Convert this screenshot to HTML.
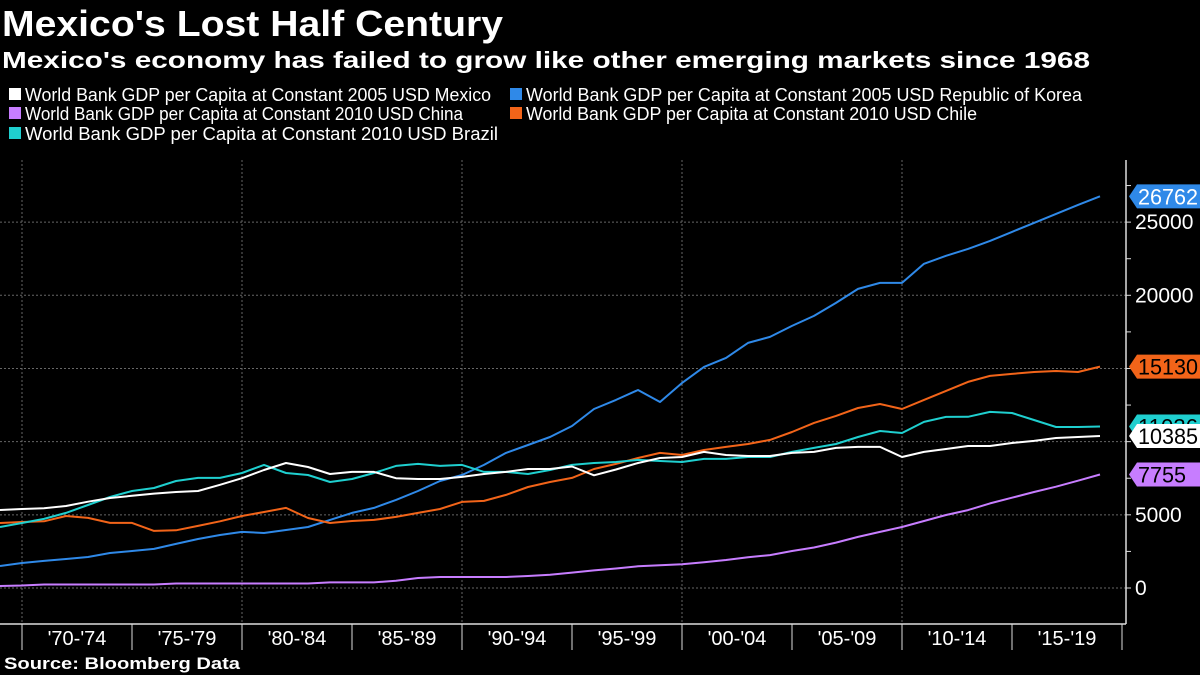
<!DOCTYPE html>
<html><head><meta charset="utf-8">
<style>
html,body{margin:0;padding:0;background:#000;}
svg{display:block;}
text{font-family:"Liberation Sans",sans-serif;}
</style></head>
<body>
<svg id="chart" width="1200" height="675" viewBox="0 0 1200 675" xmlns="http://www.w3.org/2000/svg">
<rect width="1200" height="675" fill="#000"/>
<text x="2" y="36" font-size="36" font-weight="bold" fill="#fff" textLength="501" lengthAdjust="spacingAndGlyphs">Mexico's Lost Half Century</text>
<text x="2" y="68" font-size="23" font-weight="bold" fill="#fff" textLength="1088" lengthAdjust="spacingAndGlyphs">Mexico's economy has failed to grow like other emerging markets since 1968</text>
<g id="legend"></g>
<g id="grid"></g>
<g id="axes"></g>
<g id="series"></g>
<g id="labels"></g>
<text x="4" y="669" font-size="17" font-weight="bold" fill="#fff" textLength="236" lengthAdjust="spacingAndGlyphs">Source: Bloomberg Data</text>
</svg>
<script>
const years = [];
for (let y = 1969; y <= 2019; y++) years.push(y);
const mexico = [5330,5400,5450,5600,5900,6150,6300,6450,6560,6630,7050,7500,8060,8540,8270,7790,7930,7930,7500,7450,7450,7590,7790,7930,8130,8130,8300,7700,8100,8540,8880,8950,9300,9090,9020,9020,9230,9300,9570,9640,9640,8950,9300,9500,9700,9700,9910,10050,10250,10320,10385];
const brazil = [4170,4440,4720,5130,5670,6220,6630,6830,7310,7520,7520,7860,8410,7860,7720,7240,7450,7860,8340,8480,8340,8410,7930,7930,7790,8060,8410,8540,8610,8750,8680,8610,8820,8820,8950,8950,9300,9570,9840,10320,10730,10590,11350,11690,11700,12030,11960,11480,11000,11000,11036];
const chile = [4440,4510,4560,4920,4790,4450,4450,3900,3940,4240,4560,4920,5190,5470,4780,4440,4580,4650,4860,5130,5400,5880,5950,6360,6900,7240,7520,8130,8480,8880,9230,9090,9430,9640,9840,10120,10660,11280,11760,12300,12570,12230,12850,13470,14080,14490,14630,14760,14830,14760,15130];
const korea = [1500,1710,1850,1980,2120,2390,2530,2670,3010,3350,3620,3830,3760,3960,4170,4650,5130,5470,6020,6630,7310,7720,8410,9230,9770,10320,11070,12230,12850,13530,12710,14010,15110,15720,16750,17160,17910,18590,19480,20440,20850,20850,22150,22700,23170,23720,24330,24950,25560,26180,26762];
const china = [140,170,240,240,240,240,240,240,310,310,310,310,310,310,310,380,380,380,500,680,750,750,750,750,820,900,1050,1200,1330,1480,1560,1620,1760,1910,2100,2250,2530,2770,3100,3490,3830,4170,4580,4990,5320,5780,6170,6560,6920,7330,7755];
const yTicks = [0,5000,10000,15000,20000,25000];
const yTickLabels = ["0","5000","","","20000","25000"];
const periodLabels = ["'70-'74","'75-'79","'80-'84","'85-'89","'90-'94","'95-'99","'00-'04","'05-'09","'10-'14","'15-'19"];
const periodStarts = [1970,1975,1980,1985,1990,1995,2000,2005,2010,2015];
const legendNames = ["World Bank GDP per Capita at Constant 2005 USD Mexico","World Bank GDP per Capita at Constant 2005 USD Republic of Korea","World Bank GDP per Capita at Constant 2010 USD China","World Bank GDP per Capita at Constant 2010 USD Chile","World Bank GDP per Capita at Constant 2010 USD Brazil"];

const NS = "http://www.w3.org/2000/svg";
function el(tag, attrs, parent){const e=document.createElementNS(NS,tag);for(const k in attrs)e.setAttribute(k,attrs[k]);parent.appendChild(e);return e;}
const xS = yr => 22 + (yr - 1970) * 22;
const yS = v => 588 - v * 0.014635;
const AX = 1126;

const leg = document.getElementById('legend');
const legCols = ["#ffffff","#2f89e8","#c77dff","#f26419","#1fcfcf"];
const legPos = [[9,101,466],[510,101,556],[9,120,438],[510,120,451],[9,140,473]];
legendNames.forEach((n,i)=>{
  const r = el('rect',{x:legPos[i][0],y:legPos[i][1]-13,width:12,height:12,fill:legCols[i]},leg);
  
  
  const t = el('text',{x:legPos[i][0]+16,y:legPos[i][1],'font-size':18,fill:'#fff',textLength:legPos[i][2],lengthAdjust:'spacingAndGlyphs'},leg);
  t.textContent = n;
  
  
});

const grid = document.getElementById('grid');
yTicks.forEach(v=>{
  const l = el('line',{x1:0,x2:AX,y1:yS(v),y2:yS(v),stroke:'#666','stroke-width':1,'stroke-dasharray':'2,2'},grid);
  
  
});
[1970,1980,1990,2000,2010].forEach(yr=>{
  const l = el('line',{x1:xS(yr),x2:xS(yr),y1:160,y2:624,stroke:'#666','stroke-width':1,'stroke-dasharray':'2,2'},grid);
  
  
});

const ax = document.getElementById('axes');
let a = el('line',{x1:AX,x2:AX,y1:160,y2:624,stroke:'#ddd','stroke-width':1.5},ax);


a = el('line',{x1:0,x2:AX,y1:624,y2:624,stroke:'#ddd','stroke-width':1.5},ax);


for (let v=0; v<=27500; v+=2500){
  const t = el('line',{x1:AX,x2:AX+5,y1:yS(v),y2:yS(v),stroke:'#ddd','stroke-width':1},ax);
  
  
}
yTicks.forEach((v,i)=>{
  if(!yTickLabels[i]) return;
  const t = el('text',{x:1135,y:yS(v)+7,'font-size':21,fill:'#fff'},ax);
  t.textContent = yTickLabels[i];
  
  
});
periodStarts.forEach((yr,i)=>{
  const t = el('line',{x1:xS(yr),x2:xS(yr),y1:624,y2:650,stroke:'#ddd','stroke-width':1},ax);
  
  
  const lb = el('text',{x:xS(yr)+55,y:645,'font-size':20,fill:'#fff','text-anchor':'middle'},ax);
  lb.textContent = periodLabels[i];
  
  
});
const e = el('line',{x1:xS(2020),x2:xS(2020),y1:624,y2:650,stroke:'#ddd','stroke-width':1},ax);



const ser = document.getElementById('series');
const seriesList = [
  {name:'korea-line',data:korea,col:'#2f89e8',txt:'#fff'},
  {name:'chile-line',data:chile,col:'#f26419',txt:'#000'},
  {name:'brazil-line',data:brazil,col:'#1fcfcf',txt:'#000'},
  {name:'china-line',data:china,col:'#c77dff',txt:'#000'},
  {name:'mexico-line',data:mexico,col:'#ffffff',txt:'#000'}
];
seriesList.forEach(s=>{
  const d = s.data.map((v,i)=>(i?'L':'M')+xS(years[i]).toFixed(1)+','+yS(v).toFixed(1)).join(' ');
  const p = el('path',{d:d,fill:'none',stroke:s.col,'stroke-width':2,'stroke-linejoin':'round'},ser);
  
  
});

const lab = document.getElementById('labels');
seriesList.forEach(s=>{
  const v = s.data[s.data.length-1];
  const cy = yS(v);
  const g = el('g',{},lab);
  
  
  el('path',{d:`M1129,${cy} L1137,${cy-12} L1200,${cy-12} L1200,${cy+12} L1137,${cy+12} Z`,fill:s.col},g);
  const str = String(v);
  const t = el('text',{x:1138,y:cy+8,'font-size':22,fill:s.txt,textLength:str.length*12,lengthAdjust:'spacingAndGlyphs'},g);
  t.textContent = str;
});
</script>
</body></html>
